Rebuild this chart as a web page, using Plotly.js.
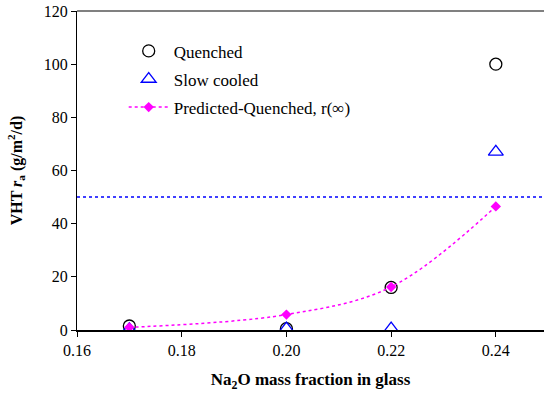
<!DOCTYPE html>
<html><head><meta charset="utf-8">
<script src="https://cdn.plot.ly/plotly-3.0.1.min.js"></script>
<style>html,body{margin:0;padding:0;background:#fff;}#chart{width:544px;height:398px;}</style>
</head><body><div id="chart"></div>
<script>
var naFraction = [0.17, 0.20, 0.22, 0.24];
var quenched = [1.5, 0.5, 16, 100];
var slowCooled = [0.3, 0.5, 0.5, 67];
var predicted = [1.0, 5.8, 16.2, 46.5];
var limitValue = 50;
var xTicks = [0.16, 0.18, 0.20, 0.22, 0.24];
var yTicks = [0, 20, 40, 60, 80, 100, 120];

var serif = 'Liberation Serif';
var traces = [
  {x: naFraction, y: quenched, mode: 'markers', name: 'Quenched', legendgroup: 'a',
   marker: {symbol: 'circle-open', size: 12, color: '#000', line: {width: 1.3, color: '#000'}}},
  {x: naFraction, y: slowCooled, mode: 'markers', name: 'Slow cooled', legendgroup: 'b',
   marker: {symbol: 'triangle-up-open', size: 13, color: '#0000FF', line: {width: 1.3, color: '#0000FF'}}},
  {x: naFraction, y: predicted, mode: 'lines+markers', name: 'Predicted-Quenched, r(\u221E)', legendgroup: 'c',
   line: {color: '#FF00FF', width: 1.5, dash: 'dot', shape: 'spline'},
   marker: {symbol: 'diamond', size: 8, color: '#FF00FF'}}
];
var layout = {
  width: 544, height: 398,
  margin: {l: 77, r: 0, t: 11, b: 68},
  paper_bgcolor: '#fff', plot_bgcolor: '#fff',
  font: {family: serif, size: 16, color: '#000'},
  showlegend: true,
  legend: {x: 0.1, y: 0.93, xanchor: 'left', yanchor: 'top', bgcolor: 'rgba(0,0,0,0)',
    font: {family: serif, size: 17, color: '#000'}, traceorder: 'grouped', tracegroupgap: 3,
    itemwidth: 40},
  xaxis: {range: [0.16, 0.2492], tickvals: xTicks, tickformat: '.2f', ticks: 'outside', ticklen: 5,
    tickcolor: '#000', showgrid: false, zeroline: false, showline: true, linecolor: '#000', linewidth: 2,
    tickfont: {family: serif, size: 16, color: '#000'},
    title: {text: '<b>Na<sub>2</sub>O mass fraction in glass</b>', font: {family: serif, size: 17, color: '#000'}, standoff: 15}},
  yaxis: {range: [0, 120], tickvals: yTicks, ticks: 'outside', ticklen: 5, tickcolor: '#000',
    showgrid: false, zeroline: false, showline: true, linecolor: '#000', linewidth: 1,
    tickfont: {family: serif, size: 16, color: '#000'},
    title: {text: '<b>VHT <i>r</i><sub>a</sub> (g/m<sup>2</sup>/d)</b>', font: {family: serif, size: 16, color: '#000'}, standoff: 17}},
  shapes: [
    {type: 'line', xref: 'paper', x0: 0, x1: 1, yref: 'y', y0: limitValue, y1: limitValue,
     line: {color: '#0000FF', width: 1.5, dash: 'dot'}},
    {type: 'line', xref: 'paper', x0: 0, x1: 1, yref: 'paper', y0: 1, y1: 1,
     line: {color: '#808080', width: 2}}
  ]
};
Plotly.newPlot('chart', traces, layout, {displayModeBar: false, staticPlot: true});
</script></body></html>
